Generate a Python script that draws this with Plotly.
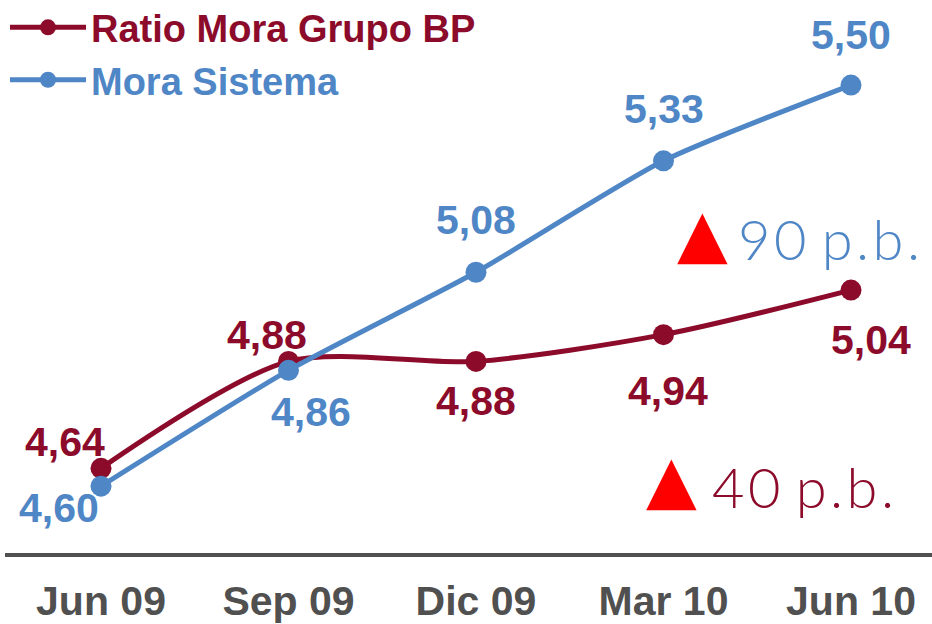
import plotly.graph_objects as go

categories = ["Jun 09", "Sep 09", "Dic 09", "Mar 10", "Jun 10"]
ratio_bp = [4.64, 4.88, 4.88, 4.94, 5.04]
mora_sistema = [4.60, 4.86, 5.08, 5.33, 5.50]
label_bp = ["4,64", "4,88", "4,88", "4,94", "5,04"]
label_sis = ["4,60", "4,86", "5,08", "5,33", "5,50"]

RED = "#8C0B2B"
BLUE = "#4F86C6"
GRAY = "#505050"
xs = list(range(len(categories)))

fig = go.Figure()
fig.add_trace(go.Scatter(
    x=xs, y=ratio_bp, mode="lines+markers",
    name=f"<span style='color:{RED}'>Ratio Mora Grupo BP</span>",
    line=dict(color=RED, width=5, shape="spline", smoothing=0.8),
    marker=dict(color=RED, size=21),
))
fig.add_trace(go.Scatter(
    x=xs, y=mora_sistema, mode="lines+markers",
    name=f"<span style='color:{BLUE}'>Mora Sistema</span>",
    line=dict(color=BLUE, width=5, shape="spline", smoothing=0.6),
    marker=dict(color=BLUE, size=21),
))

lab_font = dict(family="Liberation Sans, Arial", size=41, weight="bold")
# offsets for data labels (xshift, yshift) in px
off_bp = [(-36, 26), (-22, 26), (0, -40), (4, -56), (20, -50)]
off_sis = [(-42, -22), (22, -42), (0, 52), (0, 52), (0, 50)]
for i in xs:
    fig.add_annotation(x=i, y=ratio_bp[i], text=label_bp[i], showarrow=False,
                       xshift=off_bp[i][0], yshift=off_bp[i][1],
                       font=dict(color=RED, **lab_font))
    fig.add_annotation(x=i, y=mora_sistema[i], text=label_sis[i], showarrow=False,
                       xshift=off_sis[i][0], yshift=off_sis[i][1],
                       font=dict(color=BLUE, **lab_font))

hs = "\u200a"
thin = dict(family="Lato, Open Sans", size=56, weight=300)
tri = dict(family="DejaVu Sans", size=66, color="#FF0000")
fig.add_annotation(xref="paper", yref="paper", x=0.752, y=0.578, xanchor="center",
                   text="▲", showarrow=False, font=tri)
fig.add_annotation(xref="paper", yref="paper", x=0.7890, y=0.568, xanchor="left",
                   text=hs.join("90") + " " + hs.join("p.b."), showarrow=False,
                   font=dict(color=BLUE, **thin))
fig.add_annotation(xref="paper", yref="paper", x=0.7195, y=0.060, xanchor="center",
                   text="▲", showarrow=False, font=tri)
fig.add_annotation(xref="paper", yref="paper", x=0.760, y=0.056, xanchor="left",
                   text=hs.join("40") + " " + hs.join("p.b."), showarrow=False,
                   font=dict(color=RED, **thin))

fig.update_layout(
    width=932, height=624,
    margin=dict(l=5, r=0, t=0, b=71, autoexpand=False),
    paper_bgcolor="white", plot_bgcolor="white",
    showlegend=True,
    legend=dict(x=0.0, y=1.007, xanchor="left", yanchor="top",
                font=dict(family="Liberation Sans, Arial", size=38, weight="bold"),
                itemwidth=76, tracegroupgap=0, bgcolor="rgba(0,0,0,0)"),
    xaxis=dict(range=[-0.512, 4.432], tickvals=xs, ticktext=categories,
               automargin=False,
               showgrid=False, zeroline=False, showline=True, linecolor=GRAY,
               linewidth=4, ticks="outside", ticklen=9, tickcolor="rgba(0,0,0,0)",
               tickfont=dict(family="Liberation Sans, Arial", size=41, color=GRAY, weight="bold")),
    yaxis=dict(range=[4.450, 5.691], visible=False, showgrid=False, zeroline=False,
               automargin=False),
)

fig.write_html("out.html", config={"displayModeBar": False},
               post_script="document.body.style.margin='0';document.body.style.overflow='hidden';")
